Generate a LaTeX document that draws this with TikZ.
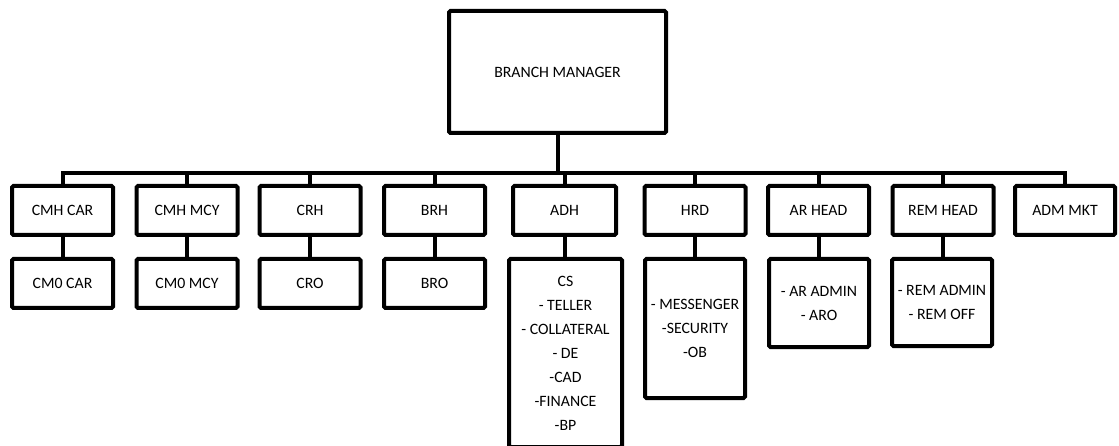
\documentclass[tikz,border=0pt]{standalone}
\usepackage{fontspec}
\setmainfont{Carlito}

\begin{document}
\begin{tikzpicture}[x=1pt, y=-1pt,
    post/.style={draw, line width=4pt, rounded corners=1.5pt, align=center,
        minimum width=101pt, minimum height=49pt, inner sep=0pt,
        font=\fontsize{15.8}{24}\selectfont},
    staff/.style={post, minimum width=100pt},
    link/.style={line width=4pt}
        ]

    \path [use as bounding box] (0,0) rectangle (1119,446);
    \clip (0,0) rectangle (1119,446);

    \coordinate (bar) at (0,173);

    % top of the tree
    \node (bm) at (557.5,72) [post, minimum width=217pt, minimum height=122pt] {BRANCH MANAGER};

    % heads
    \node (cmhcar) at (62.5,210.5) [post] {CMH CAR};
    \node (cmhmcy) at (187,210.5) [post] {CMH MCY};
    \node (crh) at (310,210.5) [post] {CRH};
    \node (brh) at (434.5,210.5) [post] {BRH};
    \node (adh) at (564.5,210.5) [post, minimum width=103pt] {ADH};
    \node (hrd) at (695,210.5) [post] {HRD};
    \node (arhead) at (818.5,210.5) [post] {AR HEAD};
    \node (remhead) at (943,210.5) [post] {REM HEAD};
    \node (admmkt) at (1065,210.5) [post, minimum width=100pt] {ADM MKT};

    % staff under each head
    \node (cmocar) at (62.5,283.5) [post] {CM0 CAR};
    \node (cmomcy) at (187,283.5) [post] {CM0 MCY};
    \node (cro) at (310,283.5) [post] {CRO};
    \node (bro) at (434.5,283.5) [post] {BRO};
    \node (adhstaff) at (565.5,353) [staff, minimum width=113pt, minimum height=188pt]
        {CS\\- TELLER\\- COLLATERAL\\- DE\\-CAD\\-FINANCE\\-BP};
    \node (hrdstaff) at (695,328.5) [staff, minimum height=139pt]
        {- MESSENGER\\-SECURITY\\-OB};
    \node (arstaff) at (819,303) [staff, minimum height=88pt]
        {- AR ADMIN\\- ARO};
    \node (remstaff) at (942,302.5) [staff, minimum height=87pt]
        {- REM ADMIN\\- REM OFF};

    \draw [link] (bm.south) -- (bm.south |- bar);
    \draw [link] (cmhcar.north) |- (bm.south |- bar) -| (admmkt.north);

    \draw [link] (cmhmcy.north) -- (cmhmcy.north |- bar);
    \draw [link] (crh.north) -- (crh.north |- bar);
    \draw [link] (brh.north) -- (brh.north |- bar);
    \draw [link] (adh.north) -- (adh.north |- bar);
    \draw [link] (hrd.north) -- (hrd.north |- bar);
    \draw [link] (arhead.north) -- (arhead.north |- bar);
    \draw [link] (remhead.north) -- (remhead.north |- bar);

    \draw [link] (cmhcar.south) -- (cmocar.north);
    \draw [link] (cmhmcy.south) -- (cmomcy.north);
    \draw [link] (crh.south) -- (cro.north);
    \draw [link] (brh.south) -- (bro.north);
    \draw [link] (adh.south) -- (adh.south |- adhstaff.north);
    \draw [link] (hrd.south) -- (hrdstaff.north);
    \draw [link] (arhead.south) -- (arhead.south |- arstaff.north);
    \draw [link] (remhead.south) -- (remhead.south |- remstaff.north);

\end{tikzpicture}
\end{document}
